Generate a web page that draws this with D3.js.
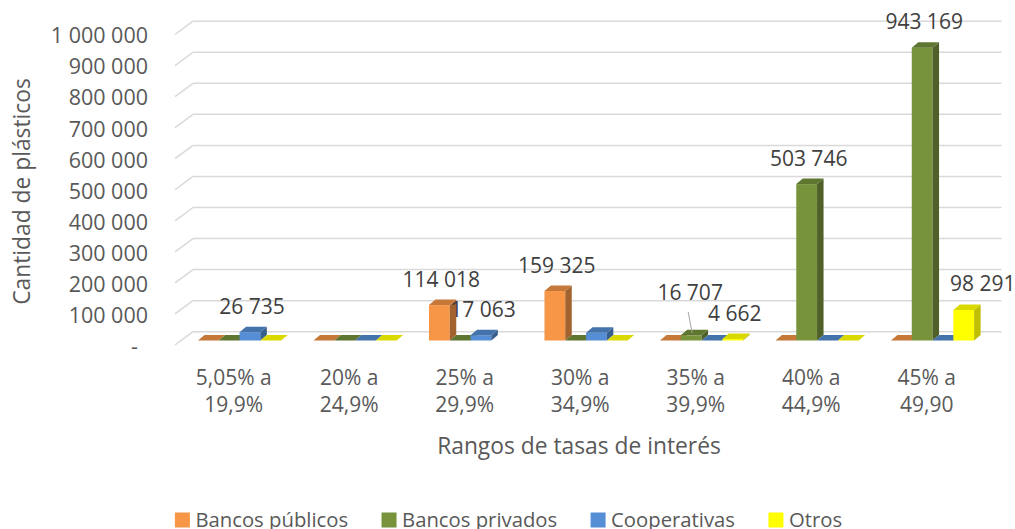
<!DOCTYPE html>
<html lang="es">
  <head>
    <meta charset="utf-8">
    <title>Rangos de tasas de interés</title>
    <style>
      body {
        margin: 0;
        background: #fff;
      }
      svg {
        display: block;
        font-family: "Open Sans", sans-serif;
      }
      .grid line {
        stroke: #d9d9d9;
        stroke-width: 1.5;
      }
      .axis text {
        font-size: 21.5px;
        fill: #595959;
      }
      .cat text {
        font-size: 21px;
        fill: #595959;
        text-anchor: middle;
      }
      .title {
        font-size: 22.8px;
        fill: #595959;
      }
      .label {
        font-size: 21px;
        fill: #404040;
        text-anchor: middle;
      }
      .legend text {
        font-size: 20.3px;
        fill: #595959;
      }
    </style>
  </head>
  <body>
    <svg id="chart" width="1015" height="529"></svg>
    <script src="https://d3js.org/d3.v7.min.js"></script>
    <script>
      // data
      const catLine1 = ["5,05% a", "20% a", "25% a", "30% a", "35% a", "40% a", "45% a"];
      const catLine2 = ["19,9%", "24,9%", "29,9%", "34,9%", "39,9%", "44,9%", "49,90"];
      const seriesNames = ["Bancos públicos", "Bancos privados", "Cooperativas", "Otros"];
      const bancosPublicos = [0, 0, 114018, 159325, 0, 0, 0];
      const bancosPrivados = [0, 0, 0, 0, 16707, 503746, 943169];
      const cooperativas = [26735, 0, 17063, 25000, 0, 0, 0];
      const otros = [0, 0, null, 0, 4662, 0, 98291];
      const yTicks = [0, 100000, 200000, 300000, 400000, 500000, 600000, 700000, 800000, 900000, 1000000];
      // which [series, category] carry a data label
      const shownLabels = [[0, 2], [0, 3], [1, 4], [1, 5], [1, 6], [2, 0], [2, 2], [3, 4], [3, 6]];

      const seriesValues = [bancosPublicos, bancosPrivados, cooperativas, otros];
      const colors = ["#f79646", "#77933c", "#558ed5", "#ffff00"];

      var svg = d3.select("svg");

      // 3d box geometry
      const FRONT_X0 = 175, FRONT_X1 = 983.5, FRONT_ZERO = 345;
      const DEPTH_DX = 18, DEPTH_DY = 13.3;
      const BAR_SHIFT = 6.8, BAR_BASE = 340.5;
      const BAR_DX = 6.5, BAR_DY = 5.5;
      const BACK_ZERO = FRONT_ZERO - DEPTH_DY;

      var x0 = d3.scaleBand()
        .domain(d3.range(catLine1.length))
        .range([FRONT_X0, FRONT_X1])
        .paddingInner(0.28)
        .paddingOuter(0.14);
      var x1 = d3.scaleBand()
        .domain(d3.range(seriesNames.length))
        .range([0, x0.bandwidth()]);
      var h = d3.scaleLinear().domain([0, 1000000]).range([0, 310.5]);
      var yFront = d3.scaleLinear().domain([0, 1000000]).range([FRONT_ZERO, FRONT_ZERO - 310.5]);

      var fmt = v => v === 0 ? "-" : d3.format(",")(v).replace(/,/g, " ");

      // gridlines: left wall diagonals and back wall
      var grid = svg.append("g").attr("class", "grid");
      yTicks.forEach(t => {
        grid.append("line")
          .attr("x1", FRONT_X0).attr("y1", FRONT_ZERO - h(t))
          .attr("x2", FRONT_X0 + DEPTH_DX).attr("y2", BACK_ZERO - h(t));
        grid.append("line")
          .attr("x1", FRONT_X0 + DEPTH_DX).attr("y1", BACK_ZERO - h(t))
          .attr("x2", FRONT_X1 + DEPTH_DX).attr("y2", BACK_ZERO - h(t));
      });

      // y axis labels
      var yAxis = svg.append("g")
        .attr("class", "axis")
        .attr("transform", "translate(148,1.5)")
        .call(d3.axisLeft(yFront).tickValues(yTicks).tickSize(0).tickPadding(0).tickFormat(fmt));
      yAxis.select(".domain").remove();
      yAxis.attr("font-family", null).attr("font-size", null);
      yAxis.selectAll("text")
        .attr("dx", d => d === 0 ? -10 : 0);

      // bars
      function shade(c, k) {
        var col = d3.rgb(c);
        return d3.rgb(col.r * k, col.g * k, col.b * k).toString();
      }

      var bars = [];
      seriesValues.forEach((vals, s) => {
        vals.forEach((v, c) => {
          if (v !== null) bars.push({ s: s, c: c, v: v });
        });
      });
      bars.sort((a, b) => a.c - b.c || a.s - b.s);

      var barG = svg.append("g");
      bars.forEach(d => {
        var xl = x0(d.c) + BAR_SHIFT + x1(d.s);
        var xr = xl + x1.bandwidth();
        var yt = BAR_BASE - h(d.v);
        var g = barG.append("g");
        if (d.v > 0) {
          g.append("rect")
            .attr("x", xl).attr("y", yt)
            .attr("width", x1.bandwidth()).attr("height", BAR_BASE - yt)
            .attr("fill", colors[d.s]);
          g.append("path")
            .attr("d", "M" + xr + "," + yt + "L" + (xr + BAR_DX) + "," + (yt - BAR_DY) +
              "L" + (xr + BAR_DX) + "," + (BAR_BASE - BAR_DY) + "L" + xr + "," + BAR_BASE + "Z")
            .attr("fill", shade(colors[d.s], d.s === 3 ? 0.75 : 0.66));
        }
        g.append("path")
          .attr("d", "M" + xl + "," + yt + "L" + xr + "," + yt + "L" + (xr + BAR_DX) + "," + (yt - BAR_DY) +
            "L" + (xl + BAR_DX) + "," + (yt - BAR_DY) + "Z")
          .attr("fill", shade(colors[d.s], d.s === 3 ? 0.85 : 0.8));
      });

      // data labels
      var labelShift = { "1,4": [-3, -17], "3,6": [17, 0] };
      shownLabels.forEach(([s, c]) => {
        var v = seriesValues[s][c];
        var cx = x0(c) + BAR_SHIFT + x1(s) + x1.bandwidth() / 2 + 2;
        var top = BAR_BASE - h(v) - BAR_DY;
        var off = labelShift[s + "," + c] || [0, 0];
        svg.append("text")
          .attr("class", "label")
          .attr("x", cx + off[0])
          .attr("y", top - 13 + off[1])
          .text(fmt(v));
        if (off[1] < 0) {
          svg.append("line")
            .attr("x1", cx + off[0] - 2).attr("y1", top - 13 + off[1] + 12)
            .attr("x2", cx - 1).attr("y2", top + 3)
            .attr("stroke", "#a6a6a6").attr("stroke-width", 1);
        }
      });

      // category labels
      var catG = svg.append("g").attr("class", "cat");
      catLine1.forEach((t, i) => {
        var cx = x0(i) + x0.bandwidth() / 2 + 1;
        catG.append("text").attr("x", cx).attr("y", 384.5).text(t);
        catG.append("text").attr("x", cx).attr("y", 412).text(catLine2[i]);
      });

      // axis titles
      svg.append("text")
        .attr("class", "title")
        .attr("x", 579).attr("y", 453.5)
        .attr("text-anchor", "middle")
        .text("Rangos de tasas de interés");
      svg.append("text")
        .attr("class", "title")
        .attr("transform", "translate(29.5,191.5) rotate(-90)")
        .attr("text-anchor", "middle")
        .text("Cantidad de plásticos");

      // legend
      var legend = svg.append("g").attr("class", "legend");
      var lx = 0;
      seriesNames.forEach((name, i) => {
        var item = legend.append("g").attr("transform", "translate(" + lx + ",0)");
        item.append("rect")
          .attr("x", 0).attr("y", 512.5).attr("width", 15).attr("height", 15)
          .attr("fill", colors[i]);
        var t = item.append("text").attr("x", 20.5).attr("y", 527.3).text(name);
        lx += 20.5 + t.node().getComputedTextLength() + 33.4;
      });
      var legendW = lx - 33.4;
      legend.attr("transform", "translate(" + (508.5 - legendW / 2) + ",0)");
    </script>
  </body>
</html>
